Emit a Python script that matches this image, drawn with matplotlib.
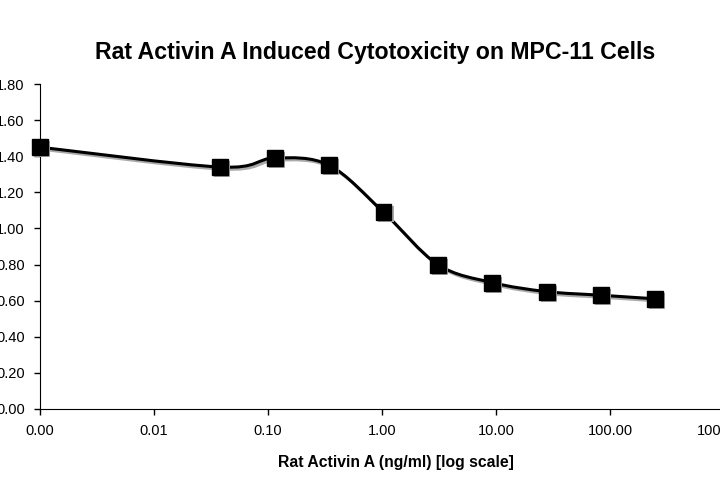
import numpy as np
import matplotlib
matplotlib.use("Agg")
from matplotlib import pyplot as plt
from matplotlib.path import Path
from matplotlib.patches import PathPatch
import matplotlib.patheffects as pe

plt.rcParams['font.family'] = ['Liberation Sans', 'DejaVu Sans']

# data
conc = [0.001, 0.0381, 0.114, 0.343, 1.03, 3.09, 9.26, 27.8, 83.3, 250.0]
od = [1.45, 1.34, 1.39, 1.35, 1.09, 0.80, 0.70, 0.65, 0.63, 0.61]
xticks = [0.001, 0.01, 0.1, 1, 10, 100, 1000]
xticklabels = ['0.00', '0.01', '0.10', '1.00', '10.00', '100.00', '1000.00']
yticks = [0.0, 0.2, 0.4, 0.6, 0.8, 1.0, 1.2, 1.4, 1.6, 1.8]

fig = plt.figure(figsize=(7.2, 4.8), dpi=100)
ax = fig.add_axes([0.0556, 0.148, 0.95, 0.677])
ax.set_xscale('log')
ax.set_xlim(0.001, 1000)
ax.set_ylim(0, 1.8)

# smoothed line like excel (bezier through the points, in log-x space)
lx = np.log10(conc)
y = np.array(od)
n = len(lx)
verts = [(conc[0], od[0])]
codes = [Path.MOVETO]
for i in range(n - 1):
    p0 = max(i - 1, 0)
    p3 = min(i + 2, n - 1)
    c1x = lx[i] + (lx[i + 1] - lx[p0]) / 6
    c1y = y[i] + (y[i + 1] - y[p0]) / 6
    c2x = lx[i + 1] - (lx[p3] - lx[i]) / 6
    c2y = y[i + 1] - (y[p3] - y[i]) / 6
    verts += [(10 ** c1x, c1y), (10 ** c2x, c2y), (conc[i + 1], od[i + 1])]
    codes += [Path.CURVE4] * 3
shadow = [pe.SimpleLineShadow(offset=(1.5, -1.5), shadow_color='#aaaaaa', alpha=1), pe.Normal()]
patch = PathPatch(Path(verts, codes), facecolor='none', edgecolor='black', lw=2.2,
                  transform=ax.transData, path_effects=shadow)
ax.add_patch(patch)
ax.plot(conc, od, linestyle='none', marker='s', markersize=11.5, color='black',
        path_effects=[pe.SimplePatchShadow(offset=(1.5, -1.5), shadow_rgbFace='#aaaaaa', alpha=1), pe.Normal()],
        clip_on=False, zorder=5)

ax.set_xticks(xticks)
ax.set_xticklabels(xticklabels)
ax.xaxis.set_minor_locator(matplotlib.ticker.NullLocator())
ax.set_yticks(yticks)
ax.set_yticklabels(['%.2f' % v for v in yticks])
ax.tick_params(labelsize=10.5, length=4, width=1, pad=7)
for s in ['top', 'right']:
    ax.spines[s].set_visible(False)

ax.set_title('Rat Activin A Induced Cytotoxicity on MPC-11 Cells', fontsize=16.7,
             fontweight='bold', x=0.49, pad=18)
ax.set_xlabel('Rat Activin A (ng/ml) [log scale]', fontsize=11.3, fontweight='bold',
              labelpad=12, x=0.52)

fig.savefig('out.png', dpi=100)
